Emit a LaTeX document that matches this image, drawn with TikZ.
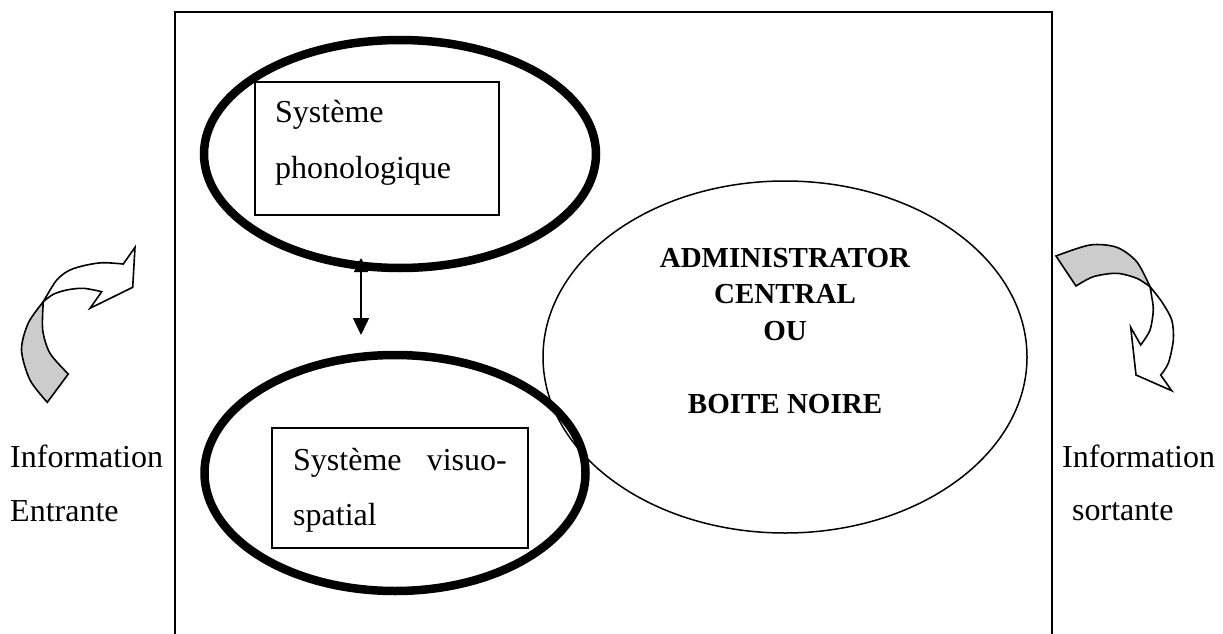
\documentclass[tikz,border=0pt]{standalone}
\usepackage{fontspec}
\setmainfont{Liberation Serif}
\usetikzlibrary{shapes.geometric,arrows.meta}
\definecolor{bandgray}{RGB}{204,204,204}
\begin{document}
\begin{tikzpicture}[x=1pt,y=-1pt,
  thickell/.style={draw, ellipse, line width=8.5pt, inner sep=0pt},
  thinell/.style={draw, ellipse, line width=1.5pt, inner sep=0pt},
  sysbox/.style={draw, line width=1.5pt, inner sep=0pt, rectangle},
  bodytext/.style={font=\fontsize{32}{38}\selectfont, inner sep=0pt},
  captext/.style={font=\fontsize{29}{35}\selectfont\bfseries, inner sep=0pt, anchor=base},
  curvarrow/.style={line width=1.6pt, line join=miter},
  linkarrow/.style={line width=1.5pt, {Triangle[length=14pt,width=14pt]}-{Triangle[length=17pt,width=16pt]}},
]
\useasboundingbox (0,0) rectangle (1223,634);

% outer frame
\draw[line width=2pt] (175,634) -- (175,12.5) -- (1052,12.5) -- (1052,634);

% central executive
\node[thinell, minimum width=484pt, minimum height=352pt] (admin) at (785,357) {};
\node[captext] (adm1) at (785,267) {ADMINISTRATOR};
\node[captext] (adm2) at (785,303) {CENTRAL};
\node[captext] (adm3) at (785,340) {OU};
\node[captext] (adm4) at (785,413) {BOITE NOIRE};

% link arrow (top head hidden behind the ellipse outline)
\coordinate (arrTop) at (361,258);
\coordinate (arrBot) at (361,335);
\draw[linkarrow] (arrTop) -- (arrBot);

% thick ellipses
\node[thickell, minimum width=392pt, minimum height=228pt] (phonoell) at (400,154) {};
\node[thickell, minimum width=381pt, minimum height=236pt] (visuoell) at (395,473) {};

% boxes
\node[sysbox, minimum width=244pt, minimum height=133pt] (phonobox) at (377,148.5) {};
\node[sysbox, minimum width=256pt, minimum height=120pt] (visuobox) at (400,488) {};

\node[bodytext, anchor=base west] (phono1) at (275,122.5) {Système};
\node[bodytext, anchor=base west] (phono2) at (275,178.3) {phonologique};
\node[bodytext, anchor=base west] (visuo1) at (293,470) {Système};
\node[bodytext, anchor=base east] (visuo2) at (507,470) {visuo-};
\node[bodytext, anchor=base west] (visuo3) at (293,525) {spatial};

% side labels
\node[bodytext, anchor=base west] (inL1) at (10,467.3) {Information};
\node[bodytext, anchor=base west] (inL2) at (10,521.7) {Entrante};
\node[bodytext, anchor=base west] (outR1) at (1062,467) {Information};
\node[bodytext, anchor=base west] (outR2) at (1072,520.7) {sortante};

% left curved arrow
\filldraw[curvarrow, fill=bandgray]
  plot[smooth] coordinates {(43.3,301.7) (28.3,323) (21.5,350) (30,380) (47.3,402.3)}
  -- (68.3,374)
  -- plot[smooth] coordinates {(68.3,374) (50,353.3) (42.7,330) (43.3,301.7)}
  -- cycle;
\filldraw[curvarrow, fill=white]
  plot[smooth] coordinates {(43.3,301.7) (56.7,280) (70,270) (86.7,265) (103.3,262.7) (123.3,264)}
  -- (135,247.3) -- (132.7,287.3) -- (90,308.3) -- (101.7,291.7)
  -- plot[smooth] coordinates {(101.7,291.7) (83.3,288.3) (66.7,290) (53.3,294.3) (43.3,301.7)}
  -- cycle;

% right curved arrow
\filldraw[curvarrow, fill=bandgray]
  plot[smooth] coordinates {(1056,256) (1090,245) (1116.7,247.3) (1136.7,261.7) (1150,286.7)}
  -- plot[smooth] coordinates {(1150,286.7) (1136.7,278.3) (1116.7,273.3) (1093.3,276.7) (1076,286)}
  -- cycle;
\filldraw[curvarrow, fill=white]
  plot[smooth] coordinates {(1150,286.7) (1161.7,301.7) (1171.7,320) (1173.3,340) (1168.3,363.3) (1160.7,375)}
  -- (1171.7,390.7) -- (1136,375) -- (1130.7,327.3) -- (1140.7,345)
  -- plot[smooth] coordinates {(1140.7,345) (1150,330) (1153.3,310) (1151.7,296.7) (1150,286.7)}
  -- cycle;
\end{tikzpicture}
\end{document}
